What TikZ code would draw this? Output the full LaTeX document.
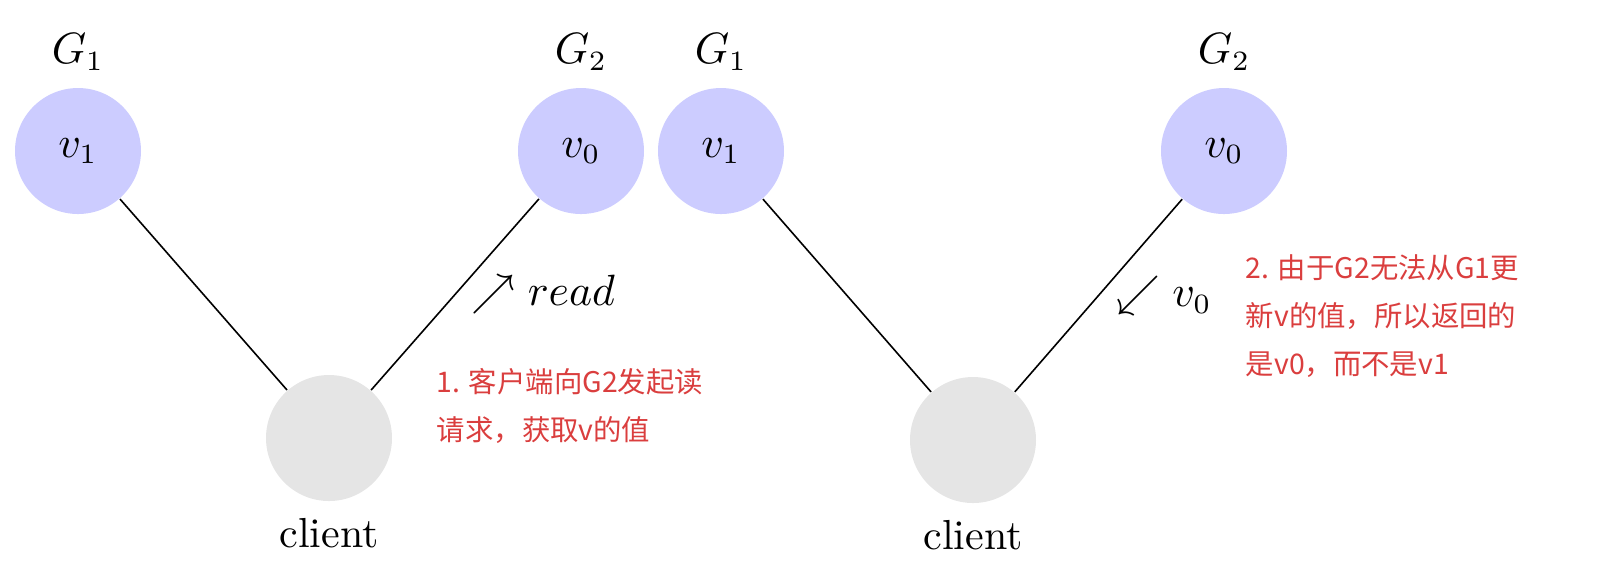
\documentclass[tikz,border=0pt]{standalone}
\usepackage{fontspec}
\newfontfamily\cjk{Noto Sans CJK SC}
\usetikzlibrary{positioning}
\definecolor{notered}{RGB}{218,62,62}
\tikzset{
  srv/.style={circle, minimum size=31.5pt, inner sep=0pt, fill=blue!20},
  cli/.style={circle, minimum size=31.5pt, inner sep=0pt, fill=black!10},
  tag/.style={font=\fontsize{10.5}{12}\selectfont, inner sep=0pt},
  note/.style={font=\cjk\fontsize{7.1}{12}\selectfont, text=notered, align=left, anchor=north west, inner sep=0pt},
  node distance=4pt
}

\begin{document}
\begin{tikzpicture}[x=0.25pt, y=-0.25pt, font=\fontsize{10.5}{12}\selectfont]
	\useasboundingbox (0,0) rectangle (1598,562);
	% left: client reads from G2
	\node[srv] (g1a) at (78,151) {$v_1$};
	\node[srv] (g2a) at (581,151) {$v_0$};
	\node[cli] (cla) at (329,438) {};
	\node[tag, above=of g1a] (g1alab) {$G_1$};
	\node[tag, above=of g2a] (g2alab) {$G_2$};
	\node[tag, below=of cla] (clalab) {client};
	
	\draw (g1a) -- (cla);
	\draw (cla) -- node[tag, right=4pt] (readlbl) {$\nearrow read$} (g2a);
	
	\node[note] (notea) at (436,368) {1. 客户端向G2发起读\\请求，获取v的值};
	
	% right: G2 answers with the old value
	\node[srv] (g1b) at (721,151) {$v_1$};
	\node[srv] (g2b) at (1224,151) {$v_0$};
	\node[cli] (clb) at (973,440) {};
	\node[tag, above=of g1b] (g1blab) {$G_1$};
	\node[tag, above=of g2b] (g2blab) {$G_2$};
	\node[tag, below=of clb] (clblab) {client};
	
	\draw (g1b) -- (clb);
	\draw (clb) -- node[tag, right=4.3pt] (vzlbl) {$\swarrow v_0$} (g2b);
	
	\node[note] (noteb) at (1245,254) {2. 由于G2无法从G1更\\新v的值，所以返回的\\是v0，而不是v1};
\end{tikzpicture}
\end{document}
